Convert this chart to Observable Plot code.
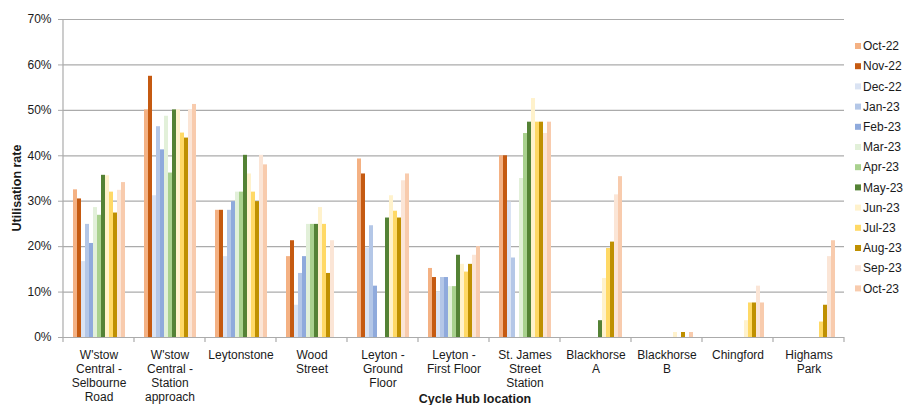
<!DOCTYPE html>
<html>
<head>
<meta charset="utf-8">
<script src="https://cdn.jsdelivr.net/npm/d3@7"></script>
<script src="https://cdn.jsdelivr.net/npm/@observablehq/plot@0.6"></script>
<style>
  html, body { margin: 0; padding: 0; background: #fff; }
  #chart { position: relative; width: 905px; height: 405px; }
</style>
</head>
<body>
<div id="chart"></div>
<script>
// ---- Data ----
const categories = [
  "W'stow Central - Selbourne Road",
  "W'stow Central - Station approach",
  "Leytonstone",
  "Wood Street",
  "Leyton - Ground Floor",
  "Leyton - First Floor",
  "St. James Street Station",
  "Blackhorse A",
  "Blackhorse B",
  "Chingford",
  "Highams Park"
];
const categoryLabels = [
  "W'stow\nCentral -\nSelbourne\nRoad",
  "W'stow\nCentral -\nStation\napproach",
  "Leytonstone",
  "Wood\nStreet",
  "Leyton -\nGround\nFloor",
  "Leyton -\nFirst Floor",
  "St. James\nStreet\nStation",
  "Blackhorse\nA",
  "Blackhorse\nB",
  "Chingford",
  "Highams\nPark"
];
const months = ["Oct-22","Nov-22","Dec-22","Jan-23","Feb-23","Mar-23","Apr-23","May-23","Jun-23","Jul-23","Aug-23","Sep-23","Oct-23"];
const monthColors = ["#F4B183","#C55A11","#DAE3F3","#B4C7E7","#8FAADC","#E2F0D9","#A9D18E","#548235","#FFF2CC","#FFD966","#BF9000","#FBE5D6","#F8CBAD"];

// utilisation rate (%) per category, one array per month
const oct22 = [32.5, 50.1, 28.0, 17.8, 39.3, 15.2, 40.0, null, null, null, null];
const nov22 = [30.5, 57.5, 28.0, 21.3, 36.0, 13.2, 40.0, null, null, null, null];
const dec22 = [16.7, 31.2, 17.8, 7.1, 19.6, 10.0, 29.8, null, null, null, null];
const jan23 = [24.9, 46.4, 28.0, 14.1, 24.6, 13.2, 17.5, null, null, null, null];
const feb23 = [20.7, 41.3, 29.9, 17.8, 11.3, 13.2, null, null, null, null, null];
const mar23 = [28.6, 48.7, 32.0, 24.9, null, 11.2, 35.0, null, null, null, null];
const apr23 = [26.9, 36.2, 32.0, 24.9, null, 11.2, 44.9, null, null, null, null];
const may23 = [35.7, 50.1, 40.1, 24.9, 26.3, 18.1, 47.4, 3.7, null, null, null];
const jun23 = [35.6, 50.1, 36.0, 28.6, 31.2, 16.1, 52.6, 13.0, 1.1, 3.7, null];
const jul23 = [32.0, 45.0, 32.0, 24.9, 27.8, 14.4, 47.4, 19.6, null, 7.6, 3.4];
const aug23 = [27.4, 43.9, 29.9, 14.1, 26.3, 16.1, 47.4, 21.0, 1.1, 7.6, 7.1];
const sep23 = [32.4, 50.1, 40.1, 21.3, 34.5, 18.1, 44.9, 31.4, null, 11.3, 17.8];
const oct23 = [34.1, 51.3, 38.0, null, 36.0, 20.0, 47.4, 35.4, 1.1, 7.6, 21.3];

const yTicks = [0, 0.1, 0.2, 0.3, 0.4, 0.5, 0.6, 0.7];

// ---- Build table ----
const series = [oct22, nov22, dec22, jan23, feb23, mar23, apr23, may23, jun23, jul23, aug23, sep23, oct23];
const rows = [];
categories.forEach((c, i) => {
  months.forEach((m, j) => {
    const v = series[j][i];
    if (v != null) rows.push({cat: c, month: m, value: v / 100});
  });
});
const labelOf = new Map(categories.map((c, i) => [c, categoryLabels[i]]));

const W = 905, H = 405;
const mL = 63, mR = 61, mT = 19, mB = 68;
const font = "'Liberation Sans', Arial, sans-serif";
const gridColor = "#ababab";
const textColor = "#1a1a1a";

const plot = Plot.plot({
  width: W, height: H,
  marginLeft: mL, marginRight: mR, marginTop: mT, marginBottom: mB,
  style: {fontFamily: font, fontSize: "12px", background: "white", color: textColor, overflow: "visible"},
  fx: {domain: categories, padding: 0, axis: null},
  x: {domain: months, paddingInner: 0, paddingOuter: 0.8, axis: null},
  y: {domain: [0, 0.7], axis: null},
  color: {domain: months, range: monthColors},
  marks: [
    Plot.gridY(yTicks, {stroke: gridColor, strokeOpacity: 1, strokeWidth: 1.2}),
    Plot.barY(rows, {fx: "cat", x: "month", y: "value", fill: "month", inset: 0}),
    Plot.ruleY([0], {stroke: gridColor, strokeWidth: 1.2}),
    Plot.axisY(yTicks, {tickFormat: d3.format(".0%"), tickSize: 5, tickPadding: 7, stroke: gridColor, fill: textColor, label: null, fontSize: 12}),
    Plot.text(categories, {fx: d => d, text: d => labelOf.get(d), frameAnchor: "bottom", lineAnchor: "top", dy: 11, lineHeight: 1.19, fill: textColor, fontSize: 12})
  ]
});

document.getElementById("chart").appendChild(plot);

// ---- Extra axis decorations using the plot's scales ----
const svg = d3.select(plot);
const fx = plot.scale("fx");
const yS = plot.scale("y");
const y0 = yS.apply(0), yTop = yS.apply(0.7);
const bounds = categories.map(c => fx.apply(c));
bounds.push(fx.apply(categories[categories.length - 1]) + fx.bandwidth);

// y axis line
svg.append("line")
  .attr("x1", bounds[0]).attr("x2", bounds[0])
  .attr("y1", yTop).attr("y2", y0)
  .attr("stroke", gridColor).attr("stroke-width", 1.2);

// category boundary ticks
svg.append("g").selectAll("line").data(bounds).join("line")
  .attr("x1", d => d).attr("x2", d => d)
  .attr("y1", y0).attr("y2", y0 + 5)
  .attr("stroke", gridColor).attr("stroke-width", 1.2);

// axis titles
svg.append("text")
  .attr("transform", `translate(21,${(y0 + yTop) / 2 + 10}) rotate(-90)`)
  .attr("text-anchor", "middle")
  .attr("font-family", font).attr("font-size", 12.5).attr("font-weight", "bold")
  .attr("fill", textColor)
  .text("Utilisation rate");

svg.append("text")
  .attr("x", 475).attr("y", 403)
  .attr("text-anchor", "middle")
  .attr("font-family", font).attr("font-size", 12.5).attr("font-weight", "bold")
  .attr("fill", textColor)
  .text("Cycle Hub location");

// legend (colors from the plot's color scale)
const color = plot.scale("color");
const lg = svg.append("g").attr("font-family", font).attr("font-size", 12).attr("fill", textColor).attr("text-anchor", "start");
months.forEach((m, i) => {
  const cy = 46 + i * 20.2;
  lg.append("rect").attr("x", 855).attr("y", cy - 3).attr("width", 6).attr("height", 6).attr("fill", color.apply(m));
  lg.append("text").attr("x", 863).attr("y", cy).attr("dy", "0.35em").attr("text-anchor", "start").text(m);
});
</script>
</body>
</html>
